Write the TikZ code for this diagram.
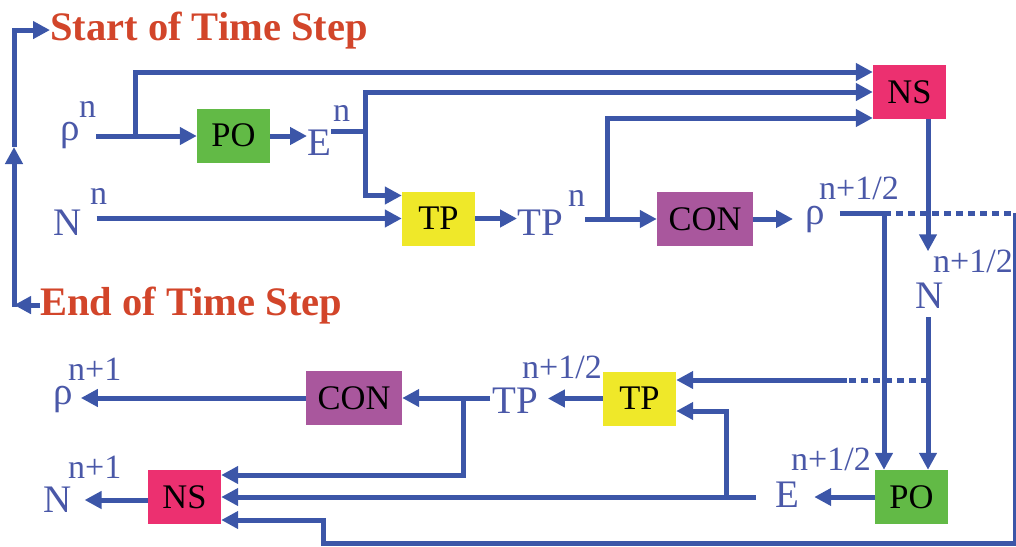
\documentclass[tikz,border=0pt]{standalone}
\usepackage{fontspec}
\setmainfont{Liberation Serif}
\usetikzlibrary{arrows.meta,calc}
\definecolor{flowblue}{HTML}{3C56A8}
\definecolor{varblue}{HTML}{4A58A8}
\definecolor{titlered}{HTML}{D2452A}
\definecolor{pogreen}{HTML}{62BA46}
\definecolor{tpyellow}{HTML}{EFE829}
\definecolor{nspink}{HTML}{EC3070}
\definecolor{conpurple}{HTML}{A9579D}
\begin{document}
\begin{tikzpicture}[x=1pt, y=-1pt,
        block/.style={rectangle, minimum width=73pt, minimum height=54pt, inner sep=0pt, font=\fontsize{34.5}{36}\selectfont},
        poblock/.style={block, fill=pogreen},
        tpblock/.style={block, fill=tpyellow},
        nsblock/.style={block, fill=nspink},
        conblock/.style={block, fill=conpurple, minimum width=96pt},
        var/.style={inner sep=0pt, anchor=base west, text=varblue, font=\fontsize{39}{40}\selectfont},
        supvar/.style={var, font=\fontsize{34}{36}\selectfont},
        title/.style={inner sep=0pt, anchor=base west, text=titlered, font=\bfseries\fontsize{40.5}{44}\selectfont},
        wire/.style={draw=flowblue, line width=5pt, line join=miter},
        arrow/.style={wire, -{Triangle[length=17pt,width=17pt]}},
        dotwire/.style={wire, dash pattern=on 7pt off 5pt}
    ]
        \useasboundingbox (0,0) rectangle (1016,546);

        % Titles
        \node[title] (start) at (50,40) {Start of Time Step};
        \node[title] (stop) at (40,315) {End of Time Step};

        % First half step
        \node[poblock] (PO1) at (233.5,135.5) {PO};
        \node[tpblock] (TP1) at (438.5,218.5) {TP};
        \node[conblock] (CON1) at (705,219) {CON};
        \node[nsblock] (NS1) at (909.5,92) {NS};

        % Second half step
        \node[poblock] (PO2) at (911.5,497) {PO};
        \node[tpblock] (TP2) at (639.5,398.5) {TP};
        \node[conblock] (CON2) at (354,398) {CON};
        \node[nsblock] (NS2) at (184.5,497) {NS};

        % Variables
        \node[var] (rhoN) at (60,140) {ρ};
        \node[supvar] (rhoNsup) at (79,117) {n};
        \node[var] (EN) at (307,155) {E};
        \node[supvar] (ENsup) at (333,121) {n};
        \node[var] (NN) at (53,235) {N};
        \node[supvar] (NNsup) at (90,204) {n};
        \node[var] (TPN) at (517,235) {TP};
        \node[supvar] (TPNsup) at (568,206) {n};
        \node[var] (rhoH) at (805,224) {ρ};
        \node[supvar] (rhoHsup) at (819,199) {n+1/2};
        \node[var] (NH) at (915,308) {N};
        \node[supvar] (NHsup) at (933,272) {n+1/2};
        \node[var] (TPH) at (492,413) {TP};
        \node[supvar] (TPHsup) at (522,378) {n+1/2};
        \node[var] (EH) at (775,507) {E};
        \node[supvar] (EHsup) at (791,470) {n+1/2};
        \node[var] (rhoF) at (53,404) {ρ};
        \node[supvar] (rhoFsup) at (68,380) {n+1};
        \node[var] (NF) at (43,512) {N};
        \node[supvar] (NFsup) at (68,478) {n+1};

        % Junctions
        \coordinate (jRho) at (135,136);
        \coordinate (jE) at (365,131);
        \coordinate (jT) at (607,219);
        \coordinate (jR) at (884,213);
        \coordinate (jN) at (928,380);
        \coordinate (jD) at (847,380);
        \coordinate (jE2) at (726,497);
        \coordinate (jT2) at (463,398);
        \coordinate (cR) at (1015,213);
        \coordinate (cB) at (1015,543);
        \coordinate (cL) at (323,543);
        \coordinate (loopB) at (14,307);
        \coordinate (loopM) at (14,147);

        % rho^n
        \draw[arrow] (rhoNsup.east |- jRho) -- (PO1.west |- jRho);
        \draw[arrow] (jRho) |- ($(NS1.west)+(0,-20)$);
        \draw[arrow] (PO1.east |- jRho) -- (EN.west |- jRho);

        % E^n
        \draw[wire] (EN.east |- jE) -- ($(jE)+(2.5,0)$);
        \draw[arrow] (jE) |- (NS1.west);
        \draw[arrow] (jE) |- ($(TP1.west)+(0,-23)$);

        % N^n
        \draw[arrow] ($(NN.east |- TP1.west)+(15,0)$) -- (TP1.west);
        \draw[arrow] (TP1.east) -- (TPN.west |- TP1.east);

        % TP^n
        \draw[arrow] (TPNsup.east |- CON1.west) -- (CON1.west);
        \draw[arrow] (jT) |- ($(NS1.west)+(0,26)$);
        \draw[arrow] (CON1.east) -- ($(rhoH.west |- CON1.east)+(-12,0)$);

        % rho^{n+1/2}
        \draw[wire] ($(rhoH.east |- jR)+(15,0)$) -- (jR);
        \draw[dotwire] (jR) -- (cR);
        \draw[arrow] (cR) -- (cB) -- (cL) |- ($(NS2.east)+(0,23)$);
        \draw[arrow] (jR) -- (jR |- PO2.north);

        % N^{n+1/2}
        \draw[arrow] (NS1.south -| jN) -- ($(NHsup.north -| jN)+(0,2)$);
        \draw[wire] ($(NH.south -| jN)+(0,9)$) -- (jN);
        \draw[arrow] (jN) -- (jN |- PO2.north);
        \draw[dotwire] (jN) -- (jD);
        \draw[arrow] (jD) -- (jD -| TP2.east);

        % E^{n+1/2}
        \draw[arrow] (PO2.west) -- ($(EH.east |- PO2.west)+(15,0)$);
        \draw[arrow] ($(EH.west |- jE2)+(-19,0)$) -- (jE2 -| NS2.east);
        \draw[arrow] (jE2) |- ($(TP2.east)+(0,12.5)$);

        % TP^{n+1/2}
        \draw[arrow] (TP2.west) -- ($(TPH.east |- TP2.west)+(10,0)$);
        \draw[arrow] ($(TPH.west |- jT2)+(-2,0)$) -- (jT2 -| CON2.east);
        \draw[arrow] (jT2) |- ($(NS2.east)+(0,-22)$);

        % new values
        \draw[arrow] (CON2.west) -- ($(rhoF.east |- CON2.west)+(8,0)$);
        \draw[arrow] ($(NS2.west)+(0,3)$) -- ($(NF.east |- NS2.west)+(13,3)$);

        % back to the start
        \draw[arrow] (stop.west) -- (stop.west -| loopB);
        \draw[arrow] (loopB) -- (loopM);
        \draw[arrow] (loopM) |- (start.west);
    \end{tikzpicture}
\end{document}
